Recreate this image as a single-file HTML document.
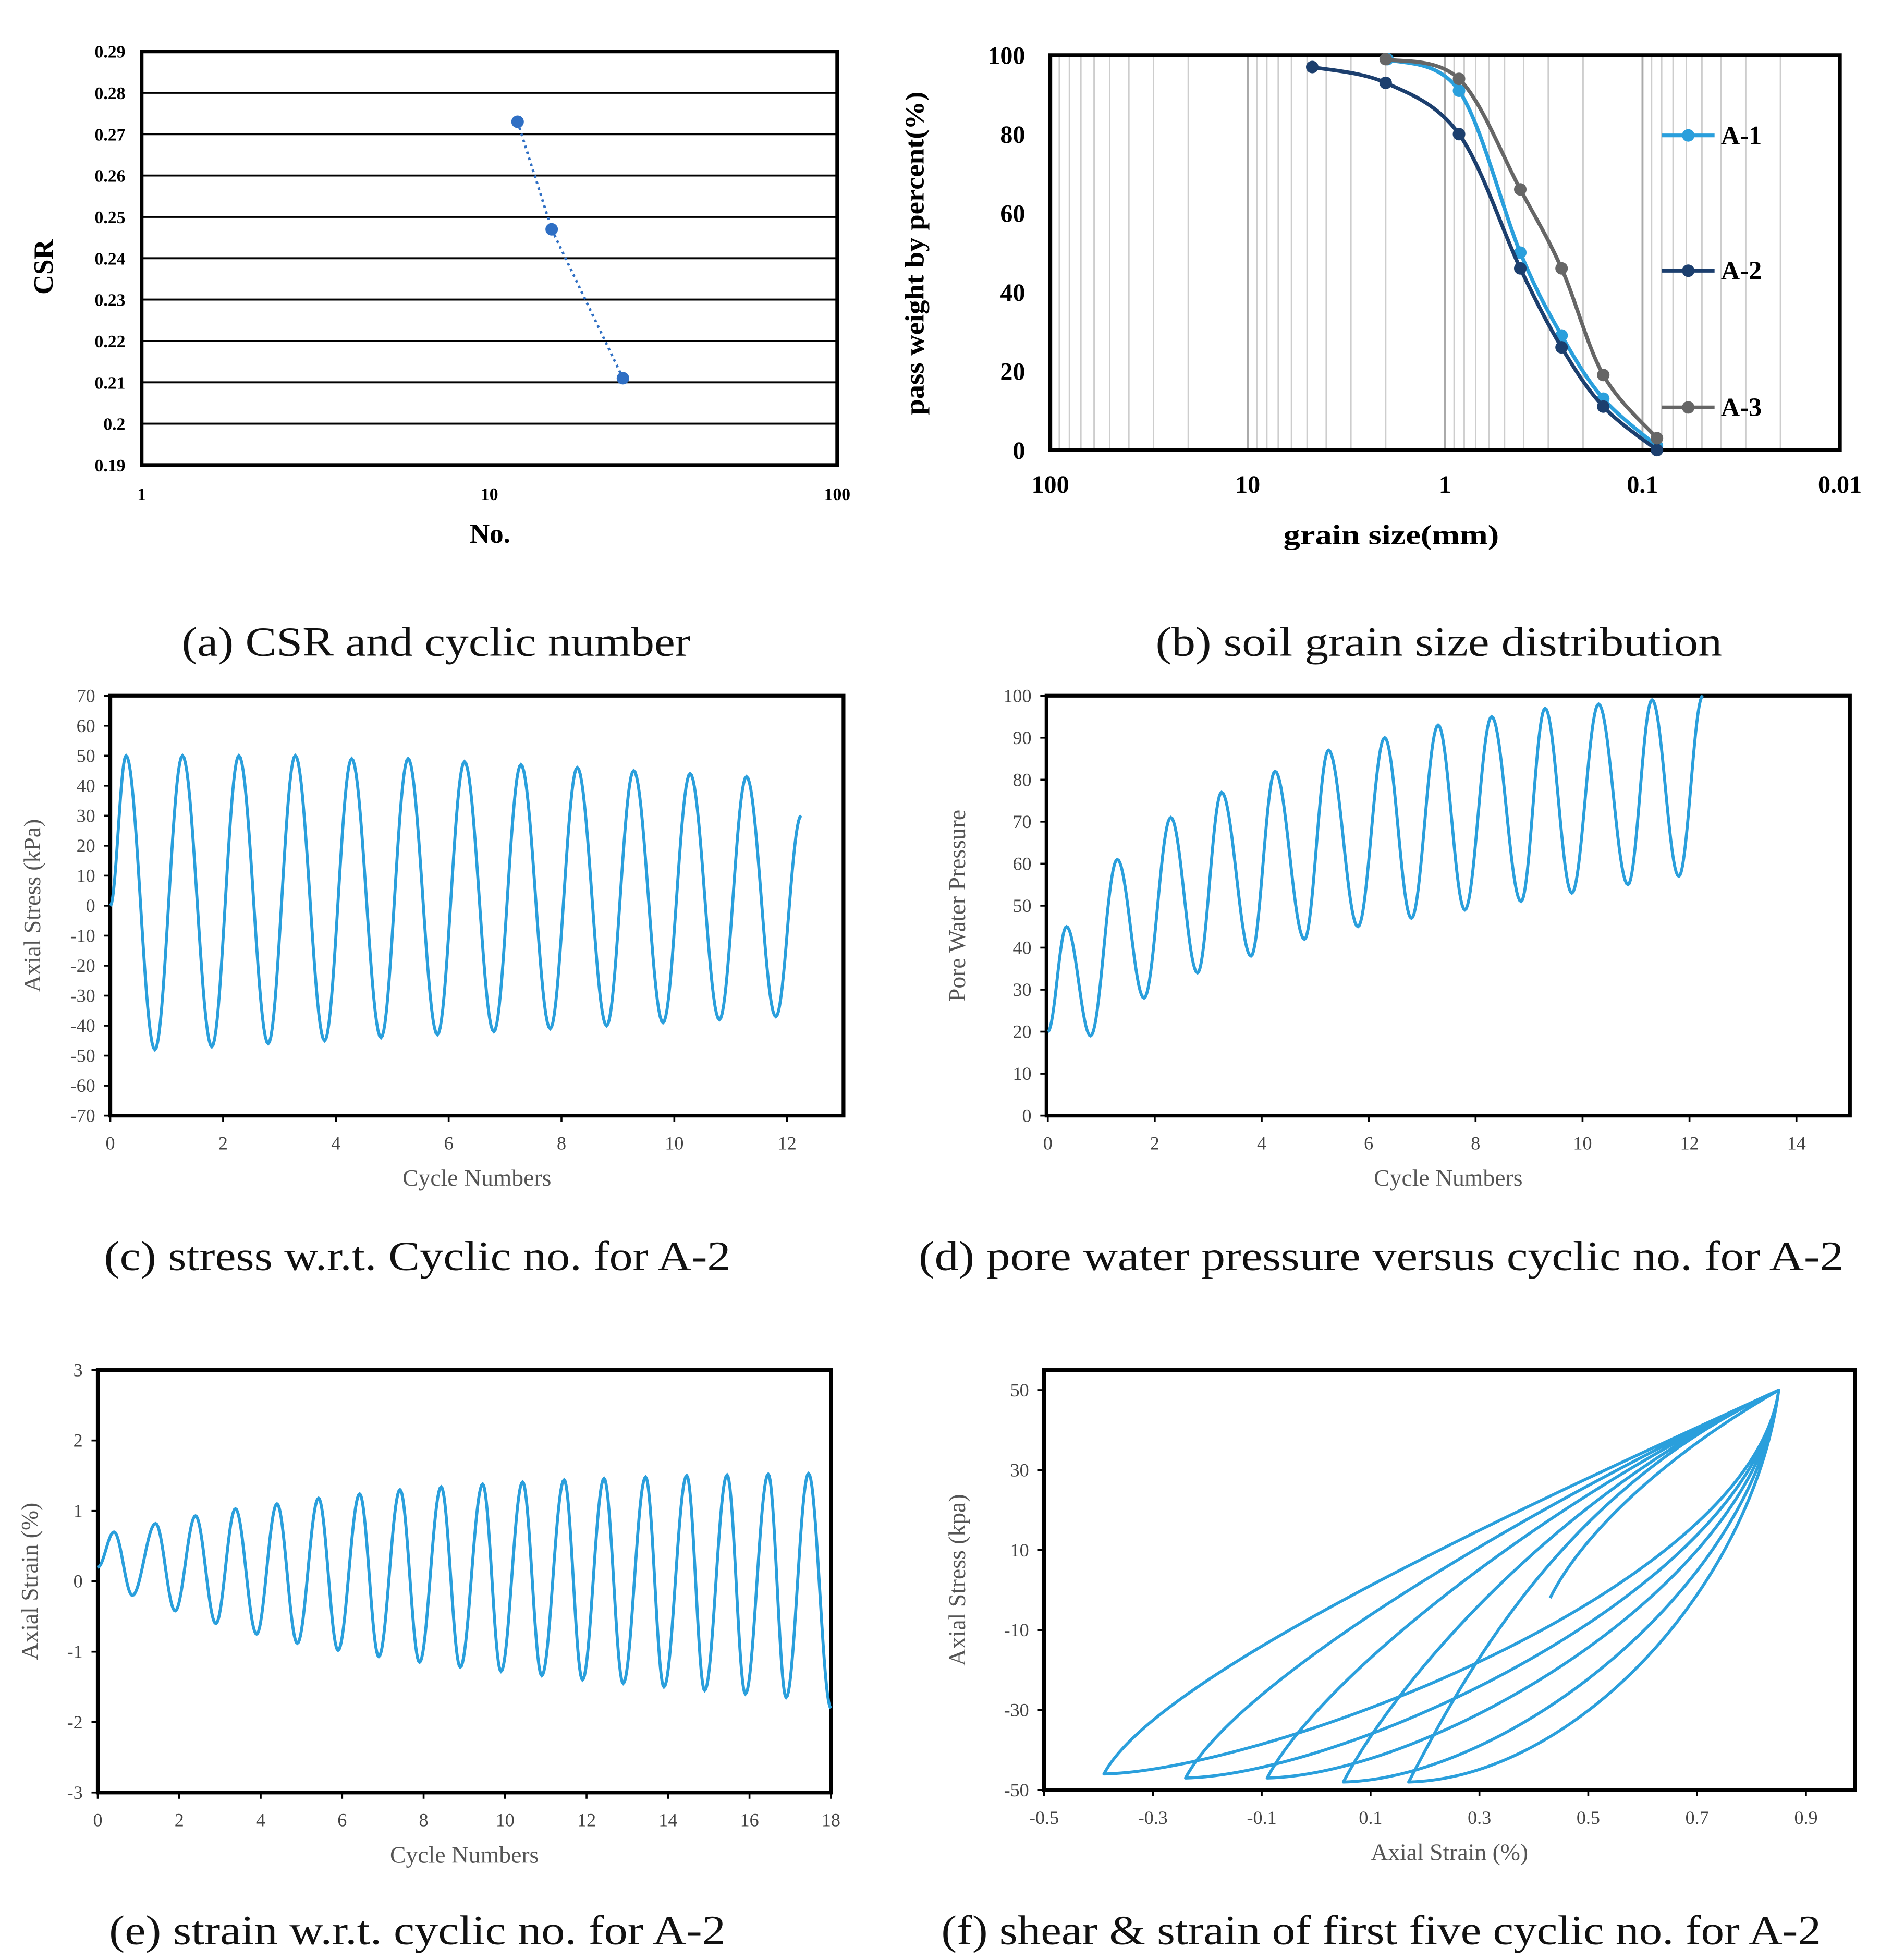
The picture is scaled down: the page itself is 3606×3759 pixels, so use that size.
<!DOCTYPE html>
<html><head><meta charset="utf-8"><style>
html,body{margin:0;padding:0;background:#fff}
svg{display:block}
text{font-family:"Liberation Serif",serif}
</style></head><body>
<svg id="root" width="3606" height="3759" viewBox="0 0 1500 1563.6" xmlns="http://www.w3.org/2000/svg">
<rect width="1500" height="1563.6" fill="#fff"/>
<g id="g"></g>
</svg>
<script>
// ---------- DATA ----------
// (a)
const aCycles=[12.05,15.1,24.2];
const aCSR=[0.273,0.247,0.211];
const aYTicks=[0.19,0.2,0.21,0.22,0.23,0.24,0.25,0.26,0.27,0.28,0.29];
const aXTicks=[1,10,100];
// (b)
const bSize1=[1.96,0.85,0.416,0.257,0.158,0.0845];
const bPass1=[99,91,50,29,13,1];
const bSize2=[4.71,2.0,0.85,0.416,0.257,0.158,0.0845];
const bPass2=[97,93,80,46,26,11,0];
const bSize3=[2.0,0.85,0.416,0.257,0.158,0.0845];
const bPass3=[99,94,66,46,19,3];
const bYTicks=[0,20,40,60,80,100];
const bXTicks=[100,10,1,0.1,0.01];
// (c)
const cTime=[0,0.28,0.79,1.28,1.8,2.28,2.8,3.28,3.8,4.28,4.8,5.28,5.8,6.28,6.8,7.28,7.8,8.28,8.8,9.28,9.8,10.28,10.8,11.28,11.8,12.25];
const cStress=[0,50,-48,50,-47,50,-46,50,-45,49,-44,49,-43,48,-42,47,-41,46,-40,45,-39,44,-38,43,-37,30];
const cYTicks=[-70,-60,-50,-40,-30,-20,-10,0,10,20,30,40,50,60,70];
const cXTicks=[0,2,4,6,8,10,12];
// (d)
const dTime=[0,0.35,0.8,1.3,1.8,2.3,2.8,3.25,3.8,4.25,4.8,5.25,5.8,6.3,6.8,7.3,7.8,8.3,8.85,9.3,9.8,10.3,10.85,11.3,11.8,12.25];
const dPWP=[20,45,19,61,28,71,34,77,38,82,42,87,45,90,47,93,49,95,51,97,53,98,55,99,57,100];
const dYTicks=[0,10,20,30,40,50,60,70,80,90,100];
const dXTicks=[0,2,4,6,8,10,12,14];
// (e)
const eTime=[0,0.4,0.85,1.42,1.9,2.4,2.9,3.38,3.9,4.4,4.9,5.42,5.9,6.43,6.9,7.42,7.9,8.43,8.9,9.45,9.9,10.43,10.9,11.45,11.9,12.43,12.9,13.45,13.9,14.46,14.9,15.45,15.9,16.46,16.9,17.45,18];
const eStrain=[0.2,0.7,-0.2,0.82,-0.42,0.93,-0.6,1.03,-0.75,1.1,-0.88,1.18,-0.98,1.24,-1.07,1.3,-1.15,1.34,-1.22,1.38,-1.28,1.41,-1.34,1.44,-1.4,1.46,-1.45,1.48,-1.5,1.5,-1.55,1.51,-1.6,1.52,-1.65,1.53,-1.8];
const eYTicks=[-3,-2,-1,0,1,2,3];
const eXTicks=[0,2,4,6,8,10,12,14,16,18];
// (f)
const fMinStrain=[-0.39,-0.24,-0.09,0.05,0.17];
const fMinStress=[-46,-47,-47,-48,-48];
const fTipStrain=[0.85];
const fTipStress=[50];
const fStartStrain=[0.43];
const fStartStress=[-2];
const fYTicks=[-50,-30,-10,10,30,50];
const fXTicks=[-0.5,-0.3,-0.1,0.1,0.3,0.5,0.7,0.9];

// ---------- HELPERS ----------
const NS='http://www.w3.org/2000/svg';
const G=document.getElementById('g');
function el(tag,attrs,parent,txt){const e=document.createElementNS(NS,tag);for(const k in attrs)e.setAttribute(k,attrs[k]);if(txt!==undefined)e.textContent=txt;(parent||G).appendChild(e);return e;}
function lin(d0,d1,p0,p1){return v=>p0+(v-d0)*(p1-p0)/(d1-d0);}
function logs(d0,d1,p0,p1){return v=>p0+(Math.log10(v)-Math.log10(d0))*(p1-p0)/(Math.log10(d1)-Math.log10(d0));}
function cosPath(ts,vs,X,Y){let d='';for(let i=0;i<ts.length-1;i++){for(let k=0;k<=20;k++){if(i>0&&k===0)continue;const s=k/20;const t=ts[i]+(ts[i+1]-ts[i])*s;const v=vs[i]+(vs[i+1]-vs[i])*(1-Math.cos(Math.PI*s))/2;d+=(d?'L':'M')+X(t).toFixed(2)+','+Y(v).toFixed(2);}}return d;}
function crPath(pts){let d='M'+pts[0][0]+','+pts[0][1];for(let i=0;i<pts.length-1;i++){const p0=pts[i-1]||pts[i],p1=pts[i],p2=pts[i+1],p3=pts[i+2]||p2;d+='C'+(p1[0]+(p2[0]-p0[0])/6)+','+(p1[1]+(p2[1]-p0[1])/6)+' '+(p2[0]-(p3[0]-p1[0])/6)+','+(p2[1]-(p3[1]-p1[1])/6)+' '+p2[0]+','+p2[1];}return d;}
function caption(x,y,t,name,w){el('text',{x:x,y:y,'text-anchor':'middle','font-size':33,fill:'#111',textLength:w,lengthAdjust:'spacingAndGlyphs',},G,t);}

const BLUE='#2a9fdc';

// ---------- (a) ----------
(function(){
const g=el('g',{});
const X=logs(1,100,113,668),Y=lin(0.19,0.29,371,41);
aYTicks.forEach(v=>{el('line',{x1:113,x2:668,y1:Y(v),y2:Y(v),stroke:'#000','stroke-width':1.6,},g);
 el('text',{x:100,y:Y(v)+5,'text-anchor':'end','font-size':14,'font-weight':'bold',},g,String(v));});
aXTicks.forEach(v=>el('text',{x:X(v),y:399,'text-anchor':'middle','font-size':14,'font-weight':'bold',},g,String(v)));
el('rect',{x:113,y:41,width:555,height:330,fill:'none',stroke:'#000','stroke-width':3,},g);
el('polyline',{points:aCycles.map((c,i)=>X(c)+','+Y(aCSR[i])).join(' '),fill:'none',stroke:'#2f6fc4','stroke-width':2,'stroke-dasharray':'2,3',},g);
aCycles.forEach((c,i)=>el('circle',{cx:X(c),cy:Y(aCSR[i]),r:5,fill:'#2f6fc4',},g));
el('text',{x:42,y:213,transform:'rotate(-90 42 213)','text-anchor':'middle','font-size':22,'font-weight':'bold',},g,'CSR');
el('text',{x:391,y:433,'text-anchor':'middle','font-size':22,'font-weight':'bold',},g,'No.');
})();
caption(348,523,'(a) CSR and cyclic number','caption-a',406);

// ---------- (b) ----------
(function(){
const g=el('g',{});
const X=logs(100,0.01,838,1468),Y=lin(0,100,359,44);
for(let e=-2;e<2;e++){for(let m=1;m<=9;m++){const v=m*Math.pow(10,e);if(v<=0.01||v>=100)continue;el('line',{x1:X(v),x2:X(v),y1:44,y2:359,stroke:m===1?'#aaa':'#cdcdcd','stroke-width':m===1?1.6:1.2,},g);}}
el('rect',{x:838,y:44,width:630,height:315,fill:'none',stroke:'#000','stroke-width':3,},g);
bYTicks.forEach(v=>el('text',{x:818,y:Y(v)+7,'text-anchor':'end','font-size':20,'font-weight':'bold',},g,String(v)));
bXTicks.forEach(v=>el('text',{x:X(v),y:393,'text-anchor':'middle','font-size':20,'font-weight':'bold',},g,String(v)));
const series=[[bSize1,bPass1,BLUE,'A-1',108],[bSize2,bPass2,'#1c3f6e','A-2',216],[bSize3,bPass3,'#666','A-3',325]];
series.forEach(([s,p,c,n,ly])=>{
 const pts=s.map((v,i)=>[X(v),Y(p[i])]);
 el('path',{d:crPath(pts),fill:'none',stroke:c,'stroke-width':3,},g);
 pts.forEach(q=>el('circle',{cx:q[0],cy:q[1],r:5,fill:c,},g));
 const lg=el('g',{},g);
 el('line',{x1:1326,x2:1368,y1:ly,y2:ly,stroke:c,'stroke-width':3},lg);
 el('circle',{cx:1347,cy:ly,r:5,fill:c},lg);
 el('text',{x:1373,y:ly+7,'font-size':21,'font-weight':'bold'},lg,n);
});
el('text',{x:737,y:202,transform:'rotate(-90 737 202)','text-anchor':'middle','font-size':21,'font-weight':'bold',textLength:258,lengthAdjust:'spacingAndGlyphs',},g,'pass weight by percent(%)');
el('text',{x:1110,y:434,'text-anchor':'middle','font-size':22,'font-weight':'bold',textLength:172,lengthAdjust:'spacingAndGlyphs',},g,'grain size(mm)');
})();
caption(1148,523,'(b) soil grain size distribution','caption-b',452);

function lightAxes(g,x0,x1,y0,y1,X,Y,xt,yt,xl,yl,ylx){
 el('rect',{x:x0,y:y0,width:x1-x0,height:y1-y0,fill:'none',stroke:'#000','stroke-width':3,},g);
 yt.forEach(v=>{el('line',{x1:x0-5,x2:x0,y1:Y(v),y2:Y(v),stroke:'#000','stroke-width':1.5},g);
  el('text',{x:x0-12,y:Y(v)+5,'text-anchor':'end','font-size':15,fill:'#444',},g,String(v));});
 xt.forEach(v=>{el('line',{x1:X(v),x2:X(v),y1:y1,y2:y1+5,stroke:'#000','stroke-width':1.5},g);
  el('text',{x:X(v),y:y1+27,'text-anchor':'middle','font-size':15,fill:'#444',},g,String(v));});
 el('text',{x:(x0+x1)/2,y:y1+56,'text-anchor':'middle','font-size':19,fill:'#555',},g,xl);
 el('text',{x:ylx,y:(y0+y1)/2,transform:'rotate(-90 '+ylx+' '+(y0+y1)/2+')','text-anchor':'middle','font-size':19,fill:'#555',},g,yl);
}

// ---------- (c) ----------
(function(){
const g=el('g',{});
const X=lin(0,13,88,673),Y=lin(-70,70,890,555);
lightAxes(g,88,673,555,890,X,Y,cXTicks,cYTicks,'Cycle Numbers','Axial Stress (kPa)',32);
el('path',{d:cosPath(cTime,cStress,X,Y),fill:'none',stroke:BLUE,'stroke-width':2.4,},g);
})();
caption(333,1013,'(c) stress w.r.t. Cyclic no. for A-2','caption-c',500);

// ---------- (d) ----------
(function(){
const g=el('g',{});
const X=lin(0,15,836,1476),Y=lin(0,100,890,555);
lightAxes(g,835,1476,555,890,X,Y,dXTicks,dYTicks,'Cycle Numbers','Pore  Water Pressure',770);
el('path',{d:cosPath(dTime,dPWP,X,Y),fill:'none',stroke:BLUE,'stroke-width':2.4,},g);
})();
caption(1102,1013,'(d) pore water pressure versus cyclic no. for A-2','caption-d',738);

// ---------- (e) ----------
(function(){
const g=el('g',{});
const X=lin(0,18,78,663),Y=lin(-3,3,1430,1093);
lightAxes(g,78,663,1093,1430,X,Y,eXTicks,eYTicks,'Cycle Numbers','Axial Strain (%)',30);
el('path',{d:cosPath(eTime,eStrain,X,Y),fill:'none',stroke:BLUE,'stroke-width':2.4,},g);
})();
caption(333,1551,'(e) strain w.r.t. cyclic no. for A-2','caption-e',492);

// ---------- (f) ----------
(function(){
const g=el('g',{});
const X=lin(-0.5,0.99,833,1480),Y=lin(-50,55,1428,1093);
lightAxes(g,833,1480,1093,1428,X,Y,fXTicks,fYTicks,'Axial Strain (%)','Axial Stress (kpa)',770);
const tx=fTipStrain[0],ty=fTipStress[0];
const P=(x,y)=>X(x).toFixed(2)+','+Y(y).toFixed(2);
let d='M'+P(fStartStrain[0],fStartStress[0])+'C'+P(fStartStrain[0]+0.05,fStartStress[0]+14)+' '+P(0.62,32)+' '+P(tx,ty);
fMinStrain.forEach((m,i)=>{const my=fMinStress[i];
 d+='C'+P(tx-0.05,ty-50)+' '+P(m+0.3,my+1)+' '+P(m,my);
 d+='C'+P(m+0.1,my+26)+' '+P(0.45,25)+' '+P(tx,ty);});
el('path',{d:d,fill:'none',stroke:BLUE,'stroke-width':2.4,'stroke-linejoin':'round',},g);
})();
caption(1102,1551,'(f) shear & strain of first five cyclic no. for A-2','caption-f',702);
</script>
</body></html>
